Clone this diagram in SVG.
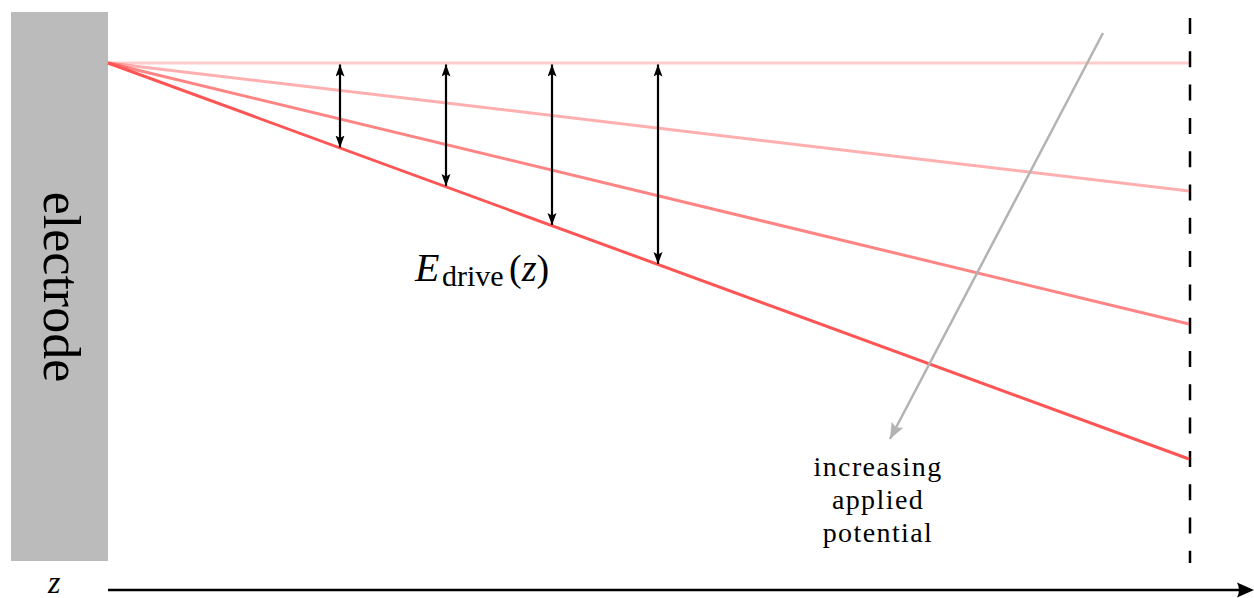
<svg xmlns="http://www.w3.org/2000/svg" width="1254" height="598" viewBox="0 0 1254 598">
<style>
.serif{font-family:'Liberation Serif','Times New Roman',serif;fill:#000}
.red{stroke:#ff5555;stroke-width:3;fill:none}
.dbl{stroke:#000;stroke-width:2.2;fill:none;marker-start:url(#ah);marker-end:url(#ah)}
.pot{font-size:28px;letter-spacing:1.4px;text-anchor:middle}
</style>
<defs>
<marker id="ah" markerUnits="userSpaceOnUse" markerWidth="13" markerHeight="10" refX="12" refY="4.5" orient="auto-start-reverse">
<path d="M0,0 L12,4.5 L0,9 L2.5,4.5 z" fill="#000"/>
</marker>
<marker id="gah" markerUnits="userSpaceOnUse" markerWidth="18" markerHeight="14" refX="16" refY="6.5" orient="auto">
<path d="M0,0 L16,6.5 L0,13 L3,6.5 z" fill="#b3b3b3"/>
</marker>
</defs>
<g id="electrode">
<rect x="11" y="12" width="97" height="549" fill="#bbbbbb"/>
<text class="serif" font-size="52" text-anchor="middle" transform="translate(44,287) rotate(90)">electrode</text>
</g>
<g id="boundary">
<line x1="1190" y1="18" x2="1190" y2="563" stroke="#000" stroke-width="2.5" stroke-dasharray="16 17.3"/>
</g>
<g id="connectors">
<g id="field-lines">
<line class="red" x1="108" y1="63" x2="1189" y2="63" stroke-opacity="0.3"/>
<line class="red" x1="108" y1="63" x2="1189" y2="191" stroke-opacity="0.47"/>
<line class="red" x1="108" y1="63" x2="1189" y2="324" stroke-opacity="0.72"/>
<line class="red" x1="108" y1="63" x2="1189" y2="459"/>
</g>
<g id="drive-arrows">
<line class="dbl" x1="340" y1="64.5" x2="340" y2="147.5"/>
<line class="dbl" x1="446" y1="64.5" x2="446" y2="186"/>
<line class="dbl" x1="552" y1="64.5" x2="552" y2="225"/>
<line class="dbl" x1="658" y1="64.5" x2="658" y2="264"/>
</g>
<g id="potential-arrow">
<line x1="1103" y1="33" x2="890" y2="439" stroke="#b3b3b3" stroke-width="2.5" marker-end="url(#gah)"/>
</g>
<g id="z-axis">
<line x1="108" y1="590" x2="1242" y2="590" stroke="#000" stroke-width="2.5"/>
<path d="M1254,590 L1237,582.5 Q1241,590 1237,597.5 z" fill="#000"/>
</g>
</g>
<g id="edrive-label">
<text class="serif" x="415" y="281" font-size="40" font-style="italic">E</text>
<text class="serif" x="442" y="286" font-size="30">drive</text>
<text class="serif" x="509" y="281" font-size="38">(<tspan font-style="italic">z</tspan>)</text>
</g>
<g id="potential-label">
<text class="serif pot" x="878" y="476">increasing</text>
<text class="serif pot" x="878" y="509">applied</text>
<text class="serif pot" x="878" y="542">potential</text>
</g>
<g id="z-label">
<text class="serif" x="48" y="593" font-size="32" font-style="italic">z</text>
</g>
</svg>
